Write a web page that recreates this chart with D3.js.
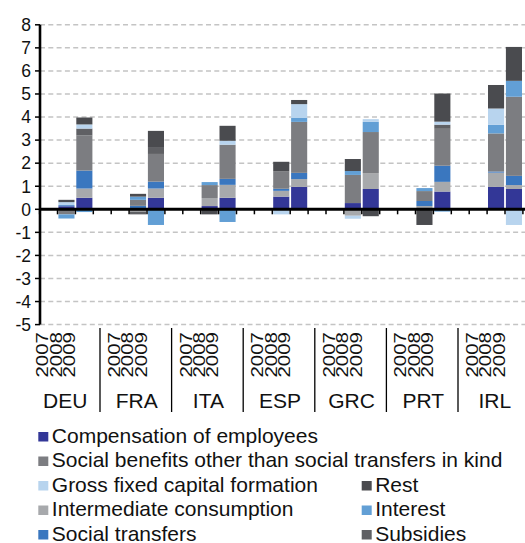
<!DOCTYPE html>
<html>
<head>
<meta charset="utf-8">
<script src="https://cdn.jsdelivr.net/npm/d3@7"></script>
<style>
  body { margin: 0; background: #fff; }
  svg { display: block; font-family: "Liberation Sans", Arial, sans-serif; }
</style>
</head>
<body>
<script>

var width = 525,
    height = 543;

var countries = ['DEU', 'FRA', 'ITA', 'ESP', 'GRC', 'PRT', 'IRL'];
var years = ['2007', '2008', '2009'];

// one value per country and year (2007, 2008, 2009), stacking order
var compensation = [0, 0.13, 0.5,  0, 0.05, 0.5,  0, 0.14, 0.5,  0, 0.55, 0.97,  0, 0.27, 0.88,  0, 0.04, 0.77,  0, 0.97, 0.88];
var intermediate = [0, 0, 0.4,  0, -0.1, 0.4,  0, 0.35, 0.56,  0, 0.25, 0.34,  0, -0.28, 0.69,  0, 0.1, 0.42,  0, 0.62, 0.17];
var socialTransfers = [0, 0.05, 0.78,  0, 0.1, 0.3,  0, 0, 0.26,  0, 0.09, 0.27,  0, 0, 0,  0, 0.22, 0.7,  0, 0.05, 0.4];
var socialBenefits = [0, -0.22, 1.52,  0, 0.26, 1.2,  0, 0.56, 1.48,  0, 0.75, 2.21,  0, 1.22, 1.78,  0, 0.43, 1.6,  0, 1.65, 3.43];
var interest = [0, -0.18, -0.12,  0, 0.14, -0.68,  0, 0.13, -0.55,  0, 0, 0.17,  0, 0.17, 0.44,  0, 0.13, -0.1,  0, 0.38, 0.69];
var subsidies = [0, 0, 0.3,  0, -0.12, 0.3,  0, 0, 0,  0, 0, 0,  0, 0, 0,  0, 0, 0.18,  0, 0, 0];
var gfcf = [0, 0.13, 0.18,  0, 0, 0,  0, 0, 0.17,  0, -0.22, 0.6,  0, -0.13, 0.12,  0, 0, 0.13,  0, 0.7, -0.68];
var rest = [0, 0.1, 0.3,  0, 0.12, 0.7,  0, -0.22, 0.65,  0, 0.42, 0.18,  0, 0.52, -0.3,  0, -0.68, 1.22,  0, 1.02, 1.47];

var seriesNames = ['Compensation of employees', 'Intermediate consumption', 'Social transfers',
  'Social benefits other than social transfers in kind', 'Interest', 'Subsidies',
  'Gross fixed capital formation', 'Rest'];
var seriesValues = [compensation, intermediate, socialTransfers, socialBenefits, interest, subsidies, gfcf, rest];
var seriesColors = ['#333797', '#a7a9ac', '#3a77bf', '#7c7d81', '#629fd5', '#5f6064', '#b8d4ee', '#4a4b4f'];

var yTicks = [8, 7, 6, 5, 4, 3, 2, 1, 0, -1, -2, -3, -4, -5];

// legend laid out in rows, as in the source
var legendRows = [
  ['Compensation of employees'],
  ['Social benefits other than social transfers in kind'],
  ['Gross fixed capital formation', 'Rest'],
  ['Intermediate consumption', 'Interest'],
  ['Social transfers', 'Subsidies']
];

var svg = d3.select('body')
  .append('svg')
  .attr('width', width)
  .attr('height', height);

// table: one row per country/year
var rows = [];
countries.forEach(function(c, ci) {
  years.forEach(function(yr, yi) {
    var row = { slot: c + '|' + yr };
    seriesNames.forEach(function(s, si) {
      row[s] = seriesValues[si][ci * 3 + yi];
    });
    rows.push(row);
  });
});

// 4 slots per country: three years and an empty one
var slots = [];
countries.forEach(function(c) {
  years.forEach(function(yr) { slots.push(c + '|' + yr); });
  slots.push(c + '|gap');
});

var x = d3.scaleBand()
  .domain(slots)
  .range([39.6, 39.6 + slots.length * 17.9]);

var barPad = 0.9,
    barW = x.bandwidth() - 1.8;

var y = d3.scaleLinear()
  .domain([-5, 8])
  .range([324.6, 24.8]);

var labelBand = d3.scaleBand()
  .domain(countries)
  .range([28.4, 28.4 + countries.length * 71.6]);

var color = d3.scaleOrdinal()
  .domain(seriesNames)
  .range(seriesColors);

// gridlines
svg.append('g')
  .selectAll('line')
  .data(yTicks.filter(function(d) { return d !== 0; }))
  .enter()
  .append('line')
  .attr('x1', 40)
  .attr('x2', width)
  .attr('y1', function(d) { return y(d); })
  .attr('y2', function(d) { return y(d); })
  .attr('stroke', '#c4c4c4')
  .attr('stroke-width', 1.5)
  .attr('stroke-dasharray', '5,3.3');

// bars
var stack = d3.stack()
  .keys(seriesNames)
  .offset(d3.stackOffsetDiverging);

var stacked = stack(rows);

svg.append('g')
  .selectAll('g')
  .data(stacked)
  .enter()
  .append('g')
  .attr('fill', function(d) { return color(d.key); })
  .selectAll('rect')
  .data(function(d) { return d.filter(function(p) { return p[1] !== p[0]; }); })
  .enter()
  .append('rect')
  .attr('x', function(d) { return x(d.data.slot) + barPad; })
  .attr('width', barW)
  .attr('y', function(d) { return y(d[1]); })
  .attr('height', function(d) { return y(d[0]) - y(d[1]); });

// zero axis with a tick per slot
svg.append('g')
  .selectAll('line')
  .data(slots)
  .enter()
  .append('line')
  .attr('x1', function(d) { return x(d); })
  .attr('x2', function(d) { return x(d); })
  .attr('y1', y(0))
  .attr('y2', y(0) + 5)
  .attr('stroke', '#000')
  .attr('stroke-width', 1.5);

svg.append('line')
  .attr('x1', 40)
  .attr('x2', width)
  .attr('y1', y(0))
  .attr('y2', y(0))
  .attr('stroke', '#000')
  .attr('stroke-width', 3);

// y axis
var yAxis = svg.append('g');

yAxis.append('line')
  .attr('x1', 40)
  .attr('x2', 40)
  .attr('y1', y(8))
  .attr('y2', y(-5))
  .attr('stroke', '#000')
  .attr('stroke-width', 2.6);

yAxis.selectAll('.tick')
  .data(yTicks)
  .enter()
  .append('line')
  .attr('x1', 35)
  .attr('x2', 40)
  .attr('y1', function(d) { return y(d); })
  .attr('y2', function(d) { return y(d); })
  .attr('stroke', '#000')
  .attr('stroke-width', 1.5);

yAxis.selectAll('text')
  .data(yTicks)
  .enter()
  .append('text')
  .attr('x', 31)
  .attr('y', function(d) { return y(d); })
  .attr('dy', '0.36em')
  .attr('text-anchor', 'end')
  .style('font-size', '17.5px')
  .style('fill', '#111')
  .text(function(d) { return d; });

// category axis: years, countries, separators
var catAxis = svg.append('g');

countries.forEach(function(c, ci) {
  var g0 = labelBand(c);

  years.forEach(function(yr, yi) {
    catAxis.append('text')
      .attr('transform', 'translate(' + (g0 + 15 + 13.4 * yi + 5) + ',332) rotate(-90) scale(1,0.76)')
      .attr('text-anchor', 'end')
      .style('font-size', '20.5px')
      .style('fill', '#111')
      .text(yr);
  });

  catAxis.append('text')
    .attr('x', g0 + labelBand.bandwidth() / 2 + 1)
    .attr('y', 408)
    .attr('text-anchor', 'middle')
    .style('font-size', '21px')
    .style('fill', '#111')
    .text(c);

  if (ci > 0) {
    catAxis.append('line')
      .attr('x1', g0)
      .attr('x2', g0)
      .attr('y1', 328)
      .attr('y2', 412)
      .attr('stroke', '#000')
      .attr('stroke-width', 1.3);
  }
});

// legend
var legend = svg.append('g');

legendRows.forEach(function(row, ri) {
  row.forEach(function(name, ci) {
    var lx = ci === 0 ? 38.3 : 361.7,
        ly = 442.5 + ri * 24.5;
    legend.append('rect')
      .attr('x', lx)
      .attr('y', ly - 10.5)
      .attr('width', 10)
      .attr('height', 9.5)
      .attr('fill', color(name));
    legend.append('text')
      .attr('x', lx + 13.5)
      .attr('y', ly)
      .style('font-size', '21px')
      .style('fill', '#111')
      .text(name);
  });
});

</script>
</body>
</html>
